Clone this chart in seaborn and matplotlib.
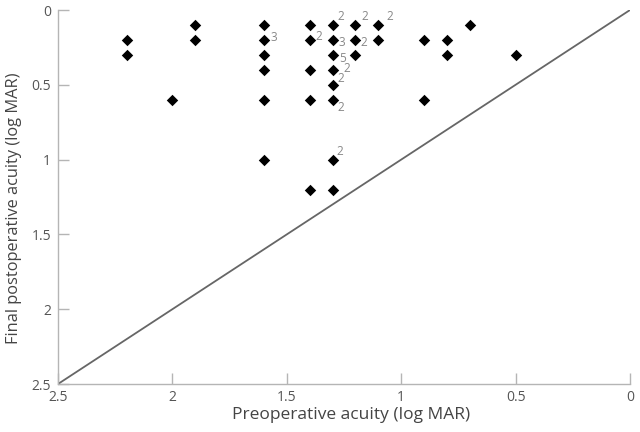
import matplotlib
matplotlib.use("Agg")
import matplotlib.pyplot as plt
import seaborn as sns
import pandas as pd

# Data
pre_acuity = [2.2, 2.2, 2.0, 1.9, 1.9,
              1.6, 1.6, 1.6, 1.6, 1.6, 1.6,
              1.4, 1.4, 1.4, 1.4, 1.4,
              1.3, 1.3, 1.3, 1.3, 1.3, 1.3, 1.3, 1.3,
              1.2, 1.2, 1.2, 1.1, 1.1,
              0.9, 0.9, 0.8, 0.8, 0.7, 0.5]
post_acuity = [0.2, 0.3, 0.6, 0.1, 0.2,
               0.1, 0.2, 0.3, 0.4, 0.6, 1.0,
               0.1, 0.2, 0.4, 0.6, 1.2,
               0.1, 0.2, 0.3, 0.4, 0.5, 0.6, 1.0, 1.2,
               0.1, 0.2, 0.3, 0.1, 0.2,
               0.2, 0.6, 0.2, 0.3, 0.1, 0.3]
counts = ["", "", "", "", "",
          "", "3", "", "", "", "",
          "", "2", "", "", "",
          "2", "3", "5", "2", "2", "2", "2", "",
          "2", "2", "", "2", "",
          "", "", "", "", "", ""]
# label offsets (points) from each marker, style only
count_offsets = [None, None, None, None, None,
                 None, (7.2, 1.4), None, None, None, None,
                 None, (6.5, 2.2), None, None, None,
                 (5.8, 5.8), (6.5, -2.2), (7.2, -2.9), (10, 0.7), (5.8, 4.3), (5.8, -5.8), (5.2, 5.8), None,
                 (6.5, 6.2), (6.2, -2.2), None, (8, 5.8), None,
                 None, None, None, None, None, None]

x_ticks = [2.5, 2, 1.5, 1, 0.5, 0]
x_ticklabels = ["2.5", "2", "1.5", "1", "0.5", "0"]
y_ticks = [0, 0.5, 1, 1.5, 2, 2.5]
y_ticklabels = ["0", "0.5", "1", "1.5", "2", "2.5"]

sns.set_theme(style="white")
plt.rcParams["font.family"] = ["Open Sans", "DejaVu Sans"]

df = pd.DataFrame({"pre": pre_acuity, "post": post_acuity})

fig = plt.figure(figsize=(6.4, 4.32), dpi=100)
ax = fig.add_axes([58 / 640, 1 - 384 / 432, (630 - 58) / 640, (384 - 10) / 432])

# identity line
sns.lineplot(x=[2.5, 0], y=[2.5, 0], ax=ax, color="#666666", linewidth=1.3)

sns.scatterplot(data=df, x="pre", y="post", ax=ax, marker="D", s=34,
                color="black", edgecolor="black", linewidth=0, zorder=3)

for xv, yv, c, off in zip(pre_acuity, post_acuity, counts, count_offsets):
    if c:
        ax.annotate(c, (xv, yv), xytext=off, textcoords="offset points",
                    ha="center", va="center", fontsize=8.5, color="#888888")

ax.set_xlim(2.5, 0)
ax.set_ylim(2.5, 0)
ax.set_xticks(x_ticks)
ax.set_xticklabels(x_ticklabels)
ax.set_yticks(y_ticks)
ax.set_yticklabels(y_ticklabels)

for side in ["top", "right"]:
    ax.spines[side].set_visible(False)
for side in ["left", "bottom"]:
    ax.spines[side].set_color("#b5b5b5")
    ax.spines[side].set_linewidth(1.0)

ax.tick_params(axis="x", direction="in", length=8, width=1, color="#b5b5b5",
               labelsize=10, labelcolor="#555555", pad=4, bottom=True)
ax.tick_params(axis="y", direction="in", length=8, width=1, color="#b5b5b5",
               labelsize=10, labelcolor="#555555", pad=5, left=True)

ax.set_xlabel("Preoperative acuity (log MAR)", fontsize=12.5, color="#444444")
ax.set_ylabel("Final postoperative acuity (log MAR)", fontsize=11.8, color="#444444")
ax.xaxis.set_label_coords((351 - 58) / 572, (384 - 407) / 374)
ax.yaxis.set_label_coords((22 - 58) / 572, (384 - 208) / 374)

fig.savefig("out.png", dpi=100)
